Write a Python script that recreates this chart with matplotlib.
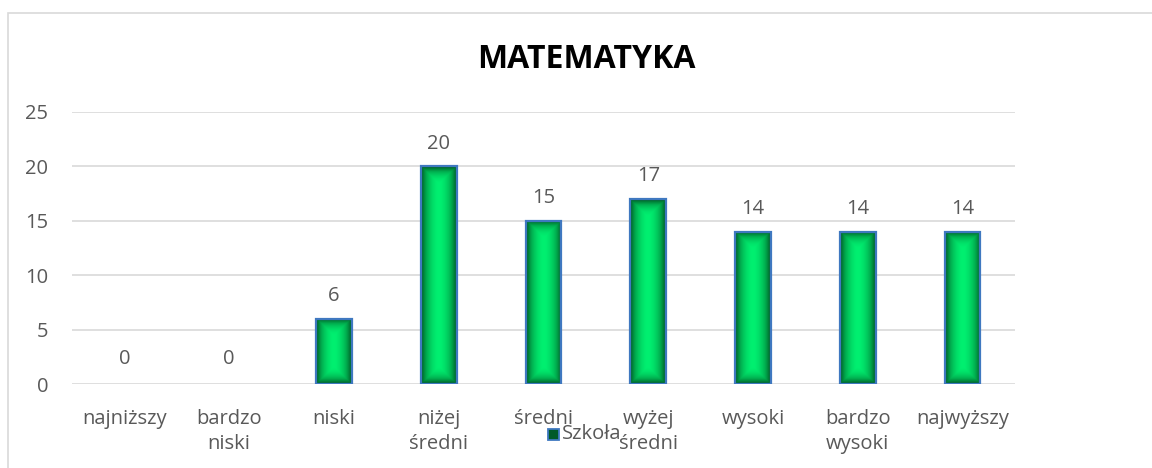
import numpy as np
import matplotlib.pyplot as plt
from matplotlib.patches import Rectangle
from matplotlib.colors import LinearSegmentedColormap

categories = ['najniższy', 'bardzo\nniski', 'niski', 'niżej\nśredni', 'średni',
              'wyżej\nśredni', 'wysoki', 'bardzo\nwysoki', 'najwyższy']
values = [0, 0, 6, 20, 15, 17, 14, 14, 14]

plt.rcParams['font.family'] = ['Open Sans', 'DejaVu Sans']
txt = '#595959'
fs = 14.5

fig = plt.figure(figsize=(11.52, 4.68), dpi=100)
# outer chart border (cropped on right and bottom)
fig.patches.append(Rectangle((8 / 1152, -0.1), 1.2, 1 - 13 / 468 + 0.1,
                             transform=fig.transFigure, fill=False,
                             edgecolor='#D9D9D9', lw=1.2))

ax = fig.add_axes([72 / 1152, 1 - 384 / 468, (1015 - 72) / 1152, (384 - 112) / 468])
x = np.arange(len(values))
w = 0.34
bars = ax.bar(x, values, width=w, color='none', edgecolor='#3F78C0', lw=1.6, zorder=3)

# green gradient: bright centre, dark edges
cmap = LinearSegmentedColormap.from_list('g', ['#005A26', '#00B050', '#00F070', '#00B050', '#005A26'])
gx = np.linspace(0, 1, 64)
for b, v in zip(bars, values):
    if v <= 0:
        b.set_linewidth(0)
        ax.text(b.get_x() + w / 2, 2.3, '0', ha='center', va='center',
                fontsize=fs, color=txt)
        continue
    gy = np.linspace(0, 1, max(int(v * 11), 2))
    X, Y = np.meshgrid(gx, gy)
    dx = np.abs(X - 0.5) * 2
    ey = np.minimum(Y * v * 11, (1 - Y) * v * 11) / 18.0
    ey = np.clip(1 - ey, 0, 1)
    d = np.maximum(dx ** 1.8, ey ** 2)
    im = ax.imshow(0.5 - 0.5 * d, cmap=cmap, vmin=0, vmax=1, aspect='auto',
                   extent=[b.get_x(), b.get_x() + w, 0, v], zorder=2, origin='lower')
    im.set_clip_path(b)
    ax.text(b.get_x() + w / 2, v + 2.1, str(v), ha='center', va='center',
            fontsize=fs, color=txt)

ax.set_xlim(-0.5, len(values) - 0.5)
ax.set_ylim(0, 25)
ax.set_yticks(range(0, 26, 5))
ax.yaxis.grid(True, color='#D9D9D9', lw=1.2, zorder=0)
for s in ax.spines.values():
    s.set_visible(False)
ax.tick_params(length=0, labelsize=fs, labelcolor=txt)
ax.tick_params(axis='y', pad=17)
ax.set_xticks(x)
ax.set_xticklabels(categories, linespacing=1.35)
ax.tick_params(axis='x', pad=18)

fig.text(586 / 1152, 1 - 60 / 468, 'MATEMATYKA', ha='center', va='center',
         fontsize=23, fontweight='bold', color='black')

# legend
fig.patches.append(Rectangle((548 / 1152, 1 - 440 / 468), 11 / 1152, 11 / 468,
                             transform=fig.transFigure, facecolor='#005A2A',
                             edgecolor='#3F78C0', lw=1.3))
fig.text(562 / 1152, 1 - 434 / 468, 'Szkoła', ha='left', va='center',
         fontsize=fs, color=txt)

fig.savefig('out.png', dpi=100)
